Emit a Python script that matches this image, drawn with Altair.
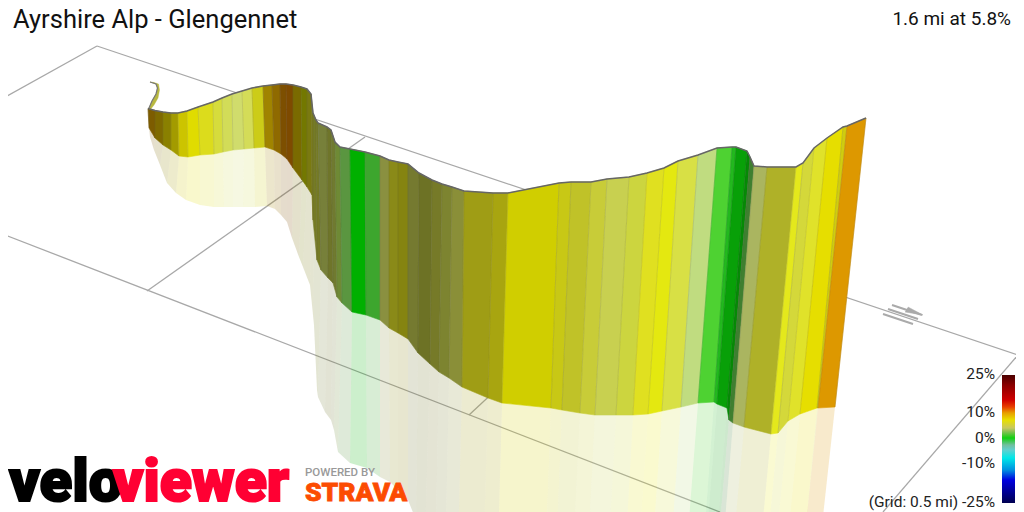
import altair as alt
import pandas as pd

title_text = "Ayrshire Alp - Glengennet"
summary_text = "1.6 mi at 5.8%"

top_x = [148,155,163,171,178,187,198,213,222,232,242,252,263,272,280,286,293,301,307,311,313,316,318,327,331,335,340,350,365,380,389,398,408,419,432,442,452,464,493,508,559,571,591,607,629,647,664,678,698,717,732,736,747,750,754,767,796,803,814,827,843,847,866]
top_y = [108.5,110.5,112,113,113,111,107,102,98,94,91,88,86,85,84,84,85,87,89,94,113,120,123,127,130,142,147,149,152,156,160,162,164,173,180,184,187,191,193,193,183,182,182,179,177,173,168,161,155,148,147,147,151,157,166,167,167,163,148,138,127,126,118]
bot_x = [149,155,163,171,179,188,200,214,223,233,244,254,265,274,281,287,293,302,307,312,313,317,321,328,333,337,342,352,366,380,389,398,408,418,430,439,449,462,488,502,551,562,580,595,616,633,648,662,681,698,714,717,727,729,733,744,771,778,788,800,817,818,835]
bot_y = [128,138,145,150,156,157,155,154,152,150,149,148,147,150,154,159,168,180,187,195,220,260,270,278,283,297,303,312,315,320,328,333,339,353,364,372,378,387,398,403,408,410,413,415,415,415,414,411,407,403,402,404,408,420,423,427,434,433,421,414,408,408,407]
ref_x = [150,154,160,167,176,186,200,214,224,233,243,255,267,275,281,287,292,299,303,310,314,317,318,325,331,334,338,350,367,380,390,398,408,416,425,435,445,457,482,496,543,553,569,583,603,620,632,646,664,679,696,698,707,708,712,721,746,753,762,773,791,789,804]
ref_y = [137,150,165,183,193,200,205,207,207,207,207,207,206,209,215,222,238,257,267,285,325,390,397,412,420,430,452,463,468,477,482,490,500,520,540,570,570,590,610,620,630,630,640,650,650,650,650,650,650,650,650,650,660,660,680,680,700,700,690,690,690,690,690]
seg_colors = ["#7d5c00","#7f6a00","#8a8000","#a39b00","#ccc400","#e0dc00","#dcdc1c","#d6dc3c","#d2dc58","#d0dc6c","#d4dc58","#cccc18","#a08400","#8f6a00","#7d4f00","#7e4a00","#7a6a00","#737800","#7a7a10","#7a7c18","#757b25","#757b25","#77803a","#6f752a","#707a30","#6f8a35","#5a9640","#00b000","#3da62e","#8a9040","#8a8a18","#858410","#757a30","#6d7225","#767a28","#7d8430","#8a8f38","#9f9d15","#a8a510","#d0ce00","#c8c815","#c0c228","#c8cc38","#c8d050","#ccd53f","#e0e020","#e4e810","#d8e045","#c0dc80","#4ed232","#22b81e","#08a008","#058a05","#3f7f30","#aab560","#afb128","#e4e81c","#d4d83a","#e0e22a","#e6de00","#cfcc10","#dd9800"]
assert len(top_x)==len(top_y)==len(bot_x)==len(bot_y)==len(ref_x)==len(ref_y)==len(seg_colors)+1

tail_x = [149,152,156,157.5,156,150,154,158.5,159.5,158,154,150]
tail_y = [108,101,94,88,84,82,82.5,84,90,98,105,110]
tail_edge_x = [149,152,156,157.5,156,150]
tail_edge_y = [108,101,94,88,84,82]

grid_x1 = [0, 97, 0, 147, 469, 1018]
grid_y1 = [100, 46, 233, 291, 415, 355]
grid_x2 = [97, 1018, 720, 365, 512, 883]
grid_y2 = [46, 355, 512, 137, 375, 512]

arrow_x1 = [892, 888, 883]
arrow_y1 = [305, 309, 314]
arrow_x2 = [922, 918, 913]
arrow_y2 = [315, 319, 324]
head_x = [908, 923, 905]
head_y = [307, 315, 312]

bar_pos = [375,385,400,407,413,420,428,432,438,445,450,458,470,480,490,503]
bar_col = ["#4a0000","#8a0000","#d00000","#e84000","#e8a000","#e8e000","#c8c860","#80c050","#10d010","#70c0a0","#60d0d0","#00e8e8","#0090e0","#0000e0","#0000a0","#000050"]
legend_labels = ["25%", "10%", "0%", "-10%", "(Grid: 0.5 mi) -25%"]
legend_y = [374, 412, 438, 463, 502]

X = alt.X("x:Q", axis=None, scale=alt.Scale(domain=[8, 1016], nice=False, zero=False))
Y = alt.Y("y:Q", axis=None, scale=alt.Scale(domain=[8, 512], nice=False, zero=False, reverse=True))

def polys(upper_x, upper_y, lower_x, lower_y):
    rows = []
    for i, c in enumerate(seg_colors):
        pts = [(upper_x[i], upper_y[i]), (upper_x[i+1], upper_y[i+1]),
               (lower_x[i+1], lower_y[i+1]), (lower_x[i], lower_y[i]), (upper_x[i], upper_y[i])]
        for k, (x, y) in enumerate(pts):
            rows.append(dict(seg=i, k=k, x=x, y=y, col=c))
    return pd.DataFrame(rows)

def poly_layer(df, **kw):
    return alt.Chart(df).mark_line(clip=True, **kw).encode(
        x=X, y=Y, order="k:Q", detail="seg:N",
        fill=alt.Fill("col:N", scale=None),
        stroke=alt.Stroke("col:N", scale=None),
    )

grid_df = pd.DataFrame(dict(x=grid_x1, y=grid_y1, x2=grid_x2, y2=grid_y2))
grid = alt.Chart(grid_df).mark_rule(color="#a8a8a8", strokeWidth=1.3, clip=True).encode(x=X, y=Y, x2="x2:Q", y2="y2:Q")

reflection = poly_layer(polys(bot_x, bot_y, ref_x, ref_y), opacity=0.2, strokeWidth=0)
wall = poly_layer(polys(top_x, top_y, bot_x, bot_y), strokeWidth=0.6)
seam_df = pd.DataFrame(dict(x=top_x, y=top_y, x2=bot_x, y2=bot_y))
seams = alt.Chart(seam_df).mark_rule(color="#555555", strokeWidth=0.7, opacity=0.22).encode(x=X, y=Y, x2="x2:Q", y2="y2:Q")

tail_df = pd.DataFrame(dict(x=tail_x, y=tail_y, k=range(len(tail_x)), seg=0, col="#b8b840"))
tail = poly_layer(tail_df, strokeWidth=0.4)
tail_edge = alt.Chart(pd.DataFrame(dict(x=tail_edge_x, y=tail_edge_y, k=range(len(tail_edge_x))))).mark_line(
    color="#777777", strokeWidth=1.2).encode(x=X, y=Y, order="k:Q")

edge_df = pd.DataFrame(dict(x=top_x, y=top_y, k=range(len(top_x))))
edge = alt.Chart(edge_df).mark_line(color="#666666", strokeWidth=1.5).encode(x=X, y=Y, order="k:Q")

arrow_df = pd.DataFrame(dict(x=arrow_x1, y=arrow_y1, x2=arrow_x2, y2=arrow_y2))
arrows = alt.Chart(arrow_df).mark_rule(color="#aaaaaa", strokeWidth=2).encode(x=X, y=Y, x2="x2:Q", y2="y2:Q")
head_df = pd.DataFrame(dict(x=head_x, y=head_y, k=range(3), seg=0, col="#aaaaaa"))
head = poly_layer(head_df, strokeWidth=0.5)

span = bar_pos[-1] - bar_pos[0]
grad = alt.Gradient(gradient="linear", x1=0, x2=0, y1=0, y2=1,
                    stops=[alt.GradientStop(offset=(p - bar_pos[0]) / span, color=c) for p, c in zip(bar_pos, bar_col)])
bar = alt.Chart(pd.DataFrame(dict(x=[1002], x2=[1015], y=[375], y2=[503]))).mark_rect(color=grad).encode(x=X, y=Y, x2="x2:Q", y2="y2:Q")

def label(text, x, y, size, align="left", color="#111111", weight="normal", font="Roboto", baseline="middle", stroke=0):
    d = pd.DataFrame(dict(x=[x], y=[y], t=[text]))
    extra = dict(stroke=color, strokeWidth=stroke) if stroke else {}
    return alt.Chart(d).mark_text(align=align, baseline=baseline, fontSize=size, color=color,
                                  fontWeight=weight, font=font, **extra).encode(x=X, y=Y, text="t:N")

legend = alt.Chart(pd.DataFrame(dict(x=[995]*5, y=legend_y, t=legend_labels))).mark_text(
    align="right", baseline="middle", fontSize=15.5, color="#222222", font="Roboto").encode(x=X, y=Y, text="t:N")

chart = alt.layer(
    grid, reflection, wall, seams, tail, tail_edge, edge, arrows, head, bar, legend,
    label(title_text, 13, 20, 25.5),
    label(summary_text, 1011, 19, 19, align="right"),
    label("velo", 9, 501, 60, color="#000000", weight=900, baseline="alphabetic", stroke=2),
    label("viewer", 113, 501, 59, color="#ff0033", weight=900, baseline="alphabetic", stroke=2),
    label("POWERED BY", 305, 473, 11.5, color="#999999", weight=500),
    label("STRAVA", 305, 493, 26.5, color="#fc4c02", weight=900, stroke=0.8),
).properties(width=1008, height=504, padding=0, background="white",
             autosize=alt.AutoSizeParams(type="none")
).configure_view(stroke=None)

chart.save("out.html", embed_options={"renderer": "svg", "actions": False})
